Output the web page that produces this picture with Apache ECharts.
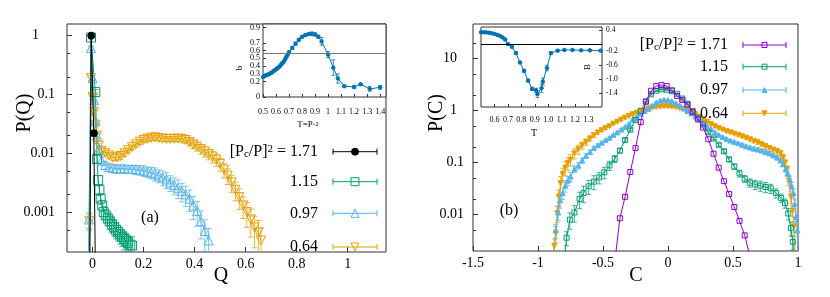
<!DOCTYPE html>
<html><head><meta charset="utf-8">
<script src="https://cdn.jsdelivr.net/npm/echarts@6/dist/echarts.min.js"></script>
<style>html,body{margin:0;padding:0;background:#fff}#c{width:830px;height:297px}</style>
</head><body><div id="c"></div>
<script>
// ---------- Panel (a): P(Q) ----------
const aXTicks = [0, 0.2, 0.4, 0.6, 0.8, 1];
const aYTicks = [1, 0.1, 0.01, 0.001];
const aYMinor = [0.5, 0.2, 0.05, 0.02, 0.005, 0.002, 0.0005];
const blackQ = [-0.012, -0.005, 0.005, 0.014];
const blackP = [1e-5, 1.0, 0.022, 1e-5];
const greenQ = [-0.014, -0.006, 0.011, 0.018, 0.022, 0.027, 0.032, 0.038, 0.044, 0.052, 0.06, 0.068, 0.076, 0.084, 0.092, 0.1, 0.108, 0.116, 0.124, 0.132, 0.14, 0.148, 0.155];
const greenP = [1e-5, 0.93, 0.11, 0.008, 0.0035, 0.0024, 0.0017, 0.0013, 0.001, 0.00088, 0.00078, 0.0007, 0.00062, 0.00056, 0.0005, 0.00046, 0.00042, 0.00038, 0.00035, 0.00032, 0.0003, 0.00028, 0.00027];
const greenErr = [0, 0.05, 0.1, 0.15, 0.2, 0.2, 0.2, 0.22, 0.25, 0.25, 0.25, 0.28, 0.28, 0.3, 0.3, 0.3, 0.32, 0.32, 0.35, 0.35, 0.35, 0.38, 0.4];
const blueQ = [-0.02, -0.014, -0.006, 0.0, 0.006, 0.012, 0.018, 0.025, 0.035, 0.05, 0.065, 0.08, 0.095, 0.11, 0.125, 0.14, 0.155, 0.17, 0.185, 0.2, 0.215, 0.23, 0.245, 0.26, 0.275, 0.29, 0.305, 0.32, 0.335, 0.35, 0.365, 0.38, 0.395, 0.41, 0.425, 0.44, 0.455];
const blueP = [1e-5, 7.5e-4, 0.62, 0.19, 0.08, 0.035, 0.02, 0.012, 0.0075, 0.0063, 0.0058, 0.0056, 0.0055, 0.0055, 0.0055, 0.0054, 0.0054, 0.0053, 0.0052, 0.0051, 0.0049, 0.0047, 0.0045, 0.0042, 0.0039, 0.0036, 0.0032, 0.0029, 0.0026, 0.0023, 0.002, 0.0017, 0.0013, 0.00105, 0.0007, 0.00048, 0.00033];
const blueErr = [0, 0.3, 0.08, 0.1, 0.1, 0.1, 0.1, 0.12, 0.15, 0.15, 0.15, 0.15, 0.15, 0.15, 0.15, 0.15, 0.15, 0.18, 0.18, 0.2, 0.2, 0.22, 0.25, 0.25, 0.28, 0.3, 0.3, 0.32, 0.35, 0.35, 0.38, 0.4, 0.42, 0.45, 0.5, 0.55, 0.6];
const orangeQ = [-0.02, -0.013, -0.006, 0.0, 0.006, 0.012, 0.018, 0.025, 0.035, 0.05, 0.065, 0.08, 0.095, 0.11, 0.125, 0.14, 0.155, 0.17, 0.185, 0.2, 0.215, 0.23, 0.245, 0.26, 0.275, 0.29, 0.305, 0.32, 0.335, 0.35, 0.365, 0.38, 0.395, 0.41, 0.425, 0.44, 0.455, 0.47, 0.485, 0.5, 0.515, 0.53, 0.545, 0.56, 0.575, 0.59, 0.605, 0.62, 0.635, 0.65, 0.66];
const orangeP = [1e-5, 7e-4, 0.19, 0.09, 0.05, 0.03, 0.02, 0.0135, 0.011, 0.0102, 0.0092, 0.0085, 0.0085, 0.009, 0.01, 0.0113, 0.0127, 0.0142, 0.0157, 0.0168, 0.0177, 0.0184, 0.0187, 0.0182, 0.0178, 0.0176, 0.0176, 0.0177, 0.0178, 0.0176, 0.0168, 0.0156, 0.0142, 0.013, 0.0118, 0.0108, 0.0097, 0.0088, 0.0078, 0.0066, 0.0053, 0.0042, 0.0032, 0.0024, 0.0018, 0.0013, 0.001, 0.00075, 0.00055, 0.00045, 0.00033];
const orangeErr = [0, 0.3, 0.1, 0.1, 0.1, 0.1, 0.1, 0.1, 0.12, 0.12, 0.12, 0.12, 0.12, 0.12, 0.12, 0.1, 0.1, 0.1, 0.1, 0.1, 0.1, 0.1, 0.1, 0.1, 0.1, 0.1, 0.1, 0.1, 0.1, 0.12, 0.12, 0.14, 0.15, 0.16, 0.18, 0.2, 0.2, 0.22, 0.24, 0.25, 0.28, 0.3, 0.32, 0.35, 0.38, 0.4, 0.45, 0.5, 0.55, 0.6, 0.65];
// inset (a): b vs T
const insAXTicks = [0.5, 0.6, 0.7, 0.8, 0.9, 1.0, 1.1, 1.2, 1.3, 1.4];
const insAYTicks = [0, 0.1, 0.2, 0.3, 0.4, 0.5, 0.6, 0.7, 0.8, 0.9];
const insAT = [0.5, 0.51, 0.52, 0.53, 0.54, 0.55, 0.56, 0.57, 0.58, 0.59, 0.6, 0.61, 0.62, 0.63, 0.64, 0.65, 0.66, 0.67, 0.68, 0.69, 0.7, 0.725, 0.75, 0.775, 0.8, 0.825, 0.85, 0.875, 0.9, 0.925, 0.95, 1.0, 1.04, 1.075, 1.125, 1.2, 1.25, 1.32, 1.4];
const insAB = [0.26, 0.27, 0.28, 0.285, 0.29, 0.30, 0.31, 0.32, 0.335, 0.345, 0.36, 0.37, 0.385, 0.40, 0.42, 0.44, 0.46, 0.49, 0.52, 0.55, 0.58, 0.635, 0.69, 0.74, 0.78, 0.80, 0.815, 0.82, 0.81, 0.78, 0.72, 0.55, 0.38, 0.24, 0.14, 0.13, 0.165, 0.105, 0.125];
const insAErr = [0.01, 0.01, 0.01, 0.01, 0.01, 0.01, 0.01, 0.01, 0.01, 0.01, 0.01, 0.01, 0.01, 0.01, 0.01, 0.01, 0.01, 0.015, 0.015, 0.015, 0.015, 0.02, 0.02, 0.02, 0.015, 0.015, 0.015, 0.02, 0.02, 0.02, 0.05, 0.04, 0.1, 0.06, 0.015, 0.02, 0.01, 0.03, 0.025];
const insALine = 0.56;

// ---------- Panel (b): P(C) ----------
const bXTicks = [-1.5, -1, -0.5, 0, 0.5, 1];
const bYTicks = [10, 1, 0.1, 0.01];
const bYMinor = [20, 5, 2, 0.5, 0.2, 0.05, 0.02, 0.005];
const purpleC = [-0.41, -0.37, -0.33, -0.29, -0.25, -0.21, -0.17, -0.13, -0.09, -0.05, -0.01, 0.03, 0.07, 0.11, 0.15, 0.19, 0.23, 0.27, 0.31, 0.35, 0.39, 0.43, 0.47, 0.51, 0.55, 0.59, 0.63];
const purpleP = [0.0012, 0.0085, 0.022, 0.066, 0.19, 0.6, 1.5, 2.4, 2.95, 3.1, 2.95, 2.45, 1.9, 1.6, 1.3, 0.93, 0.68, 0.47, 0.28, 0.148, 0.08, 0.044, 0.025, 0.014, 0.0076, 0.004, 0.0016];
const green2C = [-0.80, -0.78, -0.755, -0.72, -0.68, -0.65, -0.61, -0.57, -0.53, -0.49, -0.45, -0.41, -0.37, -0.33, -0.29, -0.25, -0.21, -0.17, -0.13, -0.09, -0.05, -0.01, 0.03, 0.07, 0.11, 0.15, 0.19, 0.23, 0.27, 0.31, 0.35, 0.39, 0.43, 0.47, 0.51, 0.55, 0.59, 0.63, 0.67, 0.71, 0.75, 0.79, 0.83, 0.87, 0.9, 0.925, 0.945, 0.96, 0.975];
const green2P = [0.0012, 0.0036, 0.008, 0.011, 0.02, 0.026, 0.035, 0.043, 0.052, 0.065, 0.088, 0.118, 0.17, 0.27, 0.43, 0.66, 0.98, 1.45, 2.05, 2.4, 2.55, 2.5, 2.35, 2.1, 1.7, 1.35, 0.98, 0.73, 0.54, 0.38, 0.29, 0.22, 0.165, 0.115, 0.084, 0.062, 0.049, 0.041, 0.038, 0.036, 0.034, 0.032, 0.026, 0.021, 0.0166, 0.0105, 0.0055, 0.003, 0.001];
const green2Err = [0, 0.3, 0.35, 0.35, 0.35, 0.35, 0.3, 0.3, 0.25, 0.25, 0.2, 0.15, 0.1, 0.08, 0.05, 0.04, 0.03, 0.03, 0.03, 0.03, 0.03, 0.03, 0.03, 0.03, 0.03, 0.03, 0.03, 0.04, 0.05, 0.06, 0.06, 0.07, 0.08, 0.1, 0.12, 0.15, 0.15, 0.18, 0.2, 0.22, 0.22, 0.2, 0.2, 0.18, 0.2, 0.25, 0.3, 0.3, 0];
const blue2C = [-0.885, -0.864, -0.845, -0.83, -0.81, -0.79, -0.77, -0.75, -0.72, -0.69, -0.66, -0.63, -0.60, -0.57, -0.54, -0.51, -0.48, -0.45, -0.42, -0.39, -0.36, -0.33, -0.30, -0.27, -0.24, -0.21, -0.18, -0.15, -0.12, -0.09, -0.06, -0.03, 0.0, 0.03, 0.06, 0.09, 0.12, 0.15, 0.18, 0.21, 0.24, 0.27, 0.30, 0.33, 0.36, 0.39, 0.42, 0.45, 0.48, 0.51, 0.54, 0.57, 0.60, 0.63, 0.66, 0.69, 0.72, 0.75, 0.78, 0.81, 0.84, 0.865, 0.885, 0.905, 0.92, 0.935, 0.95, 0.965, 0.975, 0.985, 0.995, 1.005];
const blue2P = [0.0012, 0.005, 0.011, 0.019, 0.026, 0.036, 0.045, 0.054, 0.075, 0.088, 0.11, 0.135, 0.16, 0.19, 0.215, 0.24, 0.27, 0.30, 0.34, 0.38, 0.43, 0.48, 0.55, 0.67, 0.76, 0.87, 0.98, 1.08, 1.25, 1.42, 1.55, 1.6, 1.58, 1.5, 1.38, 1.25, 1.1, 0.98, 0.88, 0.77, 0.67, 0.58, 0.50, 0.44, 0.38, 0.34, 0.31, 0.285, 0.265, 0.25, 0.235, 0.22, 0.205, 0.195, 0.185, 0.178, 0.17, 0.16, 0.15, 0.138, 0.125, 0.11, 0.094, 0.075, 0.062, 0.048, 0.036, 0.026, 0.016, 0.009, 0.005, 0.0015];
const blue2Err = [0, 0.3, 0.3, 0.3, 0.25, 0.25, 0.2, 0.2, 0.15, 0.15, 0.12, 0.1, 0.08, 0.08, 0.06, 0.05, 0.04, 0.04, 0.03, 0.03, 0.03, 0.03, 0.03, 0.03, 0.03, 0.03, 0.03, 0.03, 0.03, 0.03, 0.03, 0.03, 0.03, 0.03, 0.03, 0.03, 0.03, 0.03, 0.03, 0.03, 0.03, 0.03, 0.03, 0.03, 0.03, 0.03, 0.03, 0.03, 0.03, 0.03, 0.05, 0.05, 0.06, 0.06, 0.07, 0.07, 0.08, 0.08, 0.08, 0.1, 0.1, 0.1, 0.12, 0.12, 0.12, 0.15, 0.15, 0.2, 0.2, 0.25, 0.25, 0];
const orange2C = [-0.89, -0.875, -0.862, -0.852, -0.84, -0.826, -0.81, -0.79, -0.77, -0.75, -0.72, -0.69, -0.66, -0.63, -0.60, -0.57, -0.54, -0.51, -0.48, -0.45, -0.42, -0.39, -0.36, -0.33, -0.30, -0.27, -0.24, -0.21, -0.18, -0.15, -0.12, -0.09, -0.06, -0.03, 0.0, 0.03, 0.06, 0.09, 0.12, 0.15, 0.18, 0.21, 0.24, 0.27, 0.30, 0.33, 0.36, 0.39, 0.42, 0.45, 0.48, 0.51, 0.54, 0.57, 0.60, 0.63, 0.66, 0.69, 0.72, 0.75, 0.78, 0.81, 0.84, 0.865, 0.885, 0.9, 0.915, 0.93, 0.945, 0.958, 0.969, 0.98];
const orange2P = [0.0012, 0.0025, 0.0044, 0.0107, 0.022, 0.04, 0.06, 0.08, 0.098, 0.114, 0.15, 0.18, 0.215, 0.25, 0.29, 0.335, 0.38, 0.42, 0.46, 0.50, 0.56, 0.61, 0.67, 0.73, 0.79, 0.85, 0.91, 0.99, 1.04, 1.09, 1.14, 1.17, 1.19, 1.21, 1.21, 1.19, 1.16, 1.12, 1.06, 1.0, 0.93, 0.85, 0.76, 0.68, 0.61, 0.55, 0.50, 0.46, 0.43, 0.40, 0.38, 0.36, 0.34, 0.32, 0.30, 0.28, 0.26, 0.245, 0.225, 0.205, 0.19, 0.175, 0.163, 0.15, 0.125, 0.1, 0.075, 0.045, 0.022, 0.012, 0.0059, 0.0012];
const orange2Err = [0, 0.35, 0.35, 0.35, 0.35, 0.35, 0.3, 0.3, 0.28, 0.25, 0.22, 0.2, 0.16, 0.14, 0.12, 0.1, 0.08, 0.07, 0.06, 0.05, 0.04, 0.04, 0.04, 0.04, 0.04, 0.04, 0.04, 0.04, 0.04, 0.04, 0.04, 0.04, 0.04, 0.04, 0.04, 0.04, 0.04, 0.04, 0.04, 0.04, 0.04, 0.04, 0.04, 0.04, 0.04, 0.04, 0.04, 0.04, 0.04, 0.04, 0.05, 0.05, 0.06, 0.06, 0.07, 0.08, 0.08, 0.1, 0.1, 0.12, 0.12, 0.14, 0.15, 0.15, 0.15, 0.15, 0.15, 0.2, 0.25, 0.25, 0.25, 0];
// inset (b): B vs T
const insBXTicks = [0.6, 0.7, 0.8, 0.9, 1.0, 1.1, 1.2, 1.3];
const insBYTicks = [0.4, 0.2, -0.2, -0.6, -1.0, -1.4];
const insBT = [0.5, 0.52, 0.54, 0.56, 0.58, 0.6, 0.62, 0.64, 0.66, 0.68, 0.7, 0.73, 0.76, 0.79, 0.82, 0.85, 0.88, 0.91, 0.92, 0.95, 0.96, 0.99, 1.02, 1.07, 1.12, 1.18, 1.245, 1.31, 1.39];
const insBB = [0.35, 0.35, 0.345, 0.335, 0.32, 0.3, 0.275, 0.245, 0.2, 0.14, 0.01, -0.07, -0.25, -0.52, -0.76, -1.04, -1.28, -1.32, -1.43, -1.26, -1.07, -0.68, -0.25, -0.18, -0.16, -0.16, -0.17, -0.17, -0.18];
const insBErr = [0.02, 0.02, 0.02, 0.02, 0.02, 0.02, 0.02, 0.02, 0.02, 0.02, 0.02, 0.03, 0.03, 0.03, 0.04, 0.04, 0.05, 0.06, 0.1, 0.12, 0.1, 0.08, 0.04, 0.03, 0.02, 0.02, 0.02, 0.02, 0.02];
const insBLine = 0;

const legendLabels = ['1.71', '1.15', '0.97', '0.64'];

// ---------- styling ----------
const F = 'Liberation Serif';
const C_BLACK = '#000000', C_GREEN = '#009e73', C_BLUE = '#56b4e9', C_ORANGE = '#e69f00', C_PURPLE = '#9400d3', C_INSET = '#0072b2';
const AX = '#333';

function pairs(xs, ys) { return xs.map((x, i) => [x, ys[i]]); }
function relErr(xs, ys, es) { const o = []; xs.forEach((x, i) => { const e = es[i] || 0; if (e > 0) o.push([x, ys[i] * (1 - e), ys[i] * (1 + e)]); }); return o; }
function absErr(xs, ys, es) { const o = []; xs.forEach((x, i) => { const e = es[i] || 0; if (e > 0) o.push([x, ys[i] - e, ys[i] + e]); }); return o; }

function errSeries(xi, yi, data, color, cap, z) {
  return {
    type: 'custom', xAxisIndex: xi, yAxisIndex: yi, clip: true, silent: true, z: z || 1, animation: false,
    encode: { x: 0, y: [1, 2] }, data,
    renderItem(params, api) {
      const x = api.value(0);
      const a = api.coord([x, api.value(1)]);
      const b = api.coord([x, api.value(2)]);
      const st = { stroke: color, lineWidth: 1, opacity: 0.75 };
      return { type: 'group', children: [
        { type: 'line', shape: { x1: a[0], y1: a[1], x2: b[0], y2: b[1] }, style: st },
        { type: 'line', shape: { x1: a[0] - cap, y1: a[1], x2: a[0] + cap, y2: a[1] }, style: st },
        { type: 'line', shape: { x1: b[0] - cap, y1: b[1], x2: b[0] + cap, y2: b[1] }, style: st }
      ] };
    }
  };
}
function lineSeries(xi, yi, data, color, symbol, size, opts) {
  opts = opts || {};
  return {
    type: 'line', xAxisIndex: xi, yAxisIndex: yi, data, symbol, symbolSize: size,
    symbolRotate: opts.rotate || 0, showAllSymbol: true, clip: true, animation: false, z: opts.z || 2,
    lineStyle: { color, width: 1 },
    itemStyle: { color: opts.hollow ? 'rgba(255,255,255,0)' : color, borderColor: color, borderWidth: 1 },
    emphasis: { disabled: true }
  };
}
function markHLine(xi, yi, y, color) {
  return { type: 'line', xAxisIndex: xi, yAxisIndex: yi, data: [], animation: false,
    markLine: { silent: true, symbol: 'none', label: { show: false }, lineStyle: { color, width: 1, type: 'solid' }, data: [{ yAxis: y }], animation: false } };
}

const tickLbl = (sz) => ({ fontFamily: F, fontSize: sz, color: '#000', hideOverlap: false, showMinLabel: true, showMaxLabel: true });
const noLine = { show: false, onZero: false };

const xAxis = [
  { type: 'value', gridIndex: 0, min: -0.1, max: 1.15, axisLine: noLine, splitLine: { show: false },
    axisTick: { inside: true, length: 5, customValues: aXTicks, lineStyle: { color: AX } },
    axisLabel: Object.assign({ customValues: aXTicks, margin: 5 }, tickLbl(14)) },
  { type: 'value', gridIndex: 1, min: 0.5, max: 1.445, axisLine: noLine, splitLine: { show: false },
    axisTick: { inside: true, length: 3, customValues: insAXTicks, lineStyle: { color: AX } },
    axisLabel: Object.assign({ customValues: insAXTicks, margin: 11, formatter: v => String(Math.round(v * 10) / 10) }, tickLbl(8)) },
  { type: 'value', gridIndex: 2, min: -1.5, max: 1, axisLine: noLine, splitLine: { show: false },
    axisTick: { inside: true, length: 5, customValues: bXTicks, lineStyle: { color: AX } },
    axisLabel: Object.assign({ customValues: bXTicks, margin: 5 }, tickLbl(14)) },
  { type: 'value', gridIndex: 3, min: 0.5, max: 1.4, axisLine: noLine, splitLine: { show: false },
    axisTick: { inside: true, length: 3, customValues: insBXTicks, lineStyle: { color: AX } },
    axisLabel: Object.assign({ customValues: insBXTicks, margin: 9, formatter: v => v.toFixed(1) }, tickLbl(8)) }
];
const yAxis = [
  { type: 'log', logBase: 10, gridIndex: 0, position: 'left', min: 2.1e-4, max: 1.58, axisLine: noLine, splitLine: { show: false },
    axisTick: { inside: true, length: 5, customValues: aYTicks, lineStyle: { color: AX } },
    axisLabel: Object.assign({ customValues: aYTicks, margin: 12, formatter: v => v === 1 ? '{one|1}' : String(v),
      rich: { one: { fontFamily: F, fontSize: 14, color: '#000', padding: [0, 16, 0, 0] } } }, tickLbl(14)) },
  { type: 'value', gridIndex: 1, position: 'left', min: 0, max: 0.945, axisLine: noLine, splitLine: { show: false },
    axisTick: { inside: true, length: 3, customValues: insAYTicks, lineStyle: { color: AX } },
    axisLabel: Object.assign({ customValues: insAYTicks, margin: 3, formatter: v => String(Math.round(v * 10) / 10) }, tickLbl(8)) },
  { type: 'log', logBase: 10, gridIndex: 2, position: 'left', min: 0.002, max: 46, axisLine: noLine, splitLine: { show: false },
    axisTick: { inside: true, length: 5, customValues: bYTicks, lineStyle: { color: AX } },
    axisLabel: Object.assign({ customValues: bYTicks, margin: 9, formatter: v => v >= 1 ? '{big|' + v + '}' : String(v),
      rich: { big: { fontFamily: F, fontSize: 14, color: '#000', padding: [0, 7, 0, 0] } } }, tickLbl(14)) },
  { type: 'value', gridIndex: 3, min: -1.8, max: 0.5, position: 'right', axisLine: noLine, splitLine: { show: false },
    axisTick: { inside: true, length: 3, customValues: insBYTicks, lineStyle: { color: AX } },
    axisLabel: Object.assign({ customValues: insBYTicks, margin: 4, formatter: v => v.toFixed(1) }, tickLbl(7.5)) },
  { type: 'log', logBase: 10, gridIndex: 0, position: 'left', min: 2.1e-4, max: 1.58, axisLine: noLine, splitLine: { show: false },
    axisTick: { inside: true, length: 3, customValues: aYMinor, lineStyle: { color: AX } }, axisLabel: { show: false } },
  { type: 'log', logBase: 10, gridIndex: 2, position: 'left', min: 0.002, max: 46, axisLine: noLine, splitLine: { show: false },
    axisTick: { inside: true, length: 3, customValues: bYMinor, lineStyle: { color: AX } }, axisLabel: { show: false } }
];
const grid = [
  { left: 67, top: 24, width: 319, height: 228, show: true, borderColor: AX, borderWidth: 1, backgroundColor: 'transparent' },
  { left: 263, top: 24, width: 123, height: 73, show: true, borderColor: AX, borderWidth: 1, backgroundColor: '#fff' },
  { left: 473, top: 24, width: 325, height: 227, show: true, borderColor: AX, borderWidth: 1, backgroundColor: 'transparent' },
  { left: 481, top: 27, width: 121, height: 80, show: true, borderColor: AX, borderWidth: 1, backgroundColor: '#fff' }
];

const series = [
  // panel a
  errSeries(0, 0, relErr(orangeQ, orangeP, orangeErr), C_ORANGE, 3),
  errSeries(0, 0, relErr(blueQ, blueP, blueErr), C_BLUE, 3),
  errSeries(0, 0, relErr(greenQ, greenP, greenErr), C_GREEN, 3),
  lineSeries(0, 0, pairs(orangeQ, orangeP), C_ORANGE, 'triangle', 9, { hollow: true, rotate: 180 }),
  lineSeries(0, 0, pairs(blueQ, blueP), C_BLUE, 'triangle', 9, { hollow: true }),
  lineSeries(0, 0, pairs(greenQ, greenP), C_GREEN, 'rect', 9, { hollow: true }),
  lineSeries(0, 0, pairs(blackQ, blackP), C_BLACK, 'circle', 7, { z: 3 }),
  // inset a
  markHLine(1, 1, insALine, '#777'),
  errSeries(1, 1, absErr(insAT, insAB, insAErr), C_INSET, 2, 3),
  lineSeries(1, 1, pairs(insAT, insAB), C_INSET, 'circle', 3.5, { z: 4 }),
  // panel b
  errSeries(2, 2, relErr(orange2C, orange2P, orange2Err), C_ORANGE, 2.5),
  errSeries(2, 2, relErr(blue2C, blue2P, blue2Err), C_BLUE, 2.5),
  errSeries(2, 2, relErr(green2C, green2P, green2Err), C_GREEN, 2.5),
  lineSeries(2, 2, pairs(orange2C, orange2P), C_ORANGE, 'triangle', 5, { rotate: 180 }),
  lineSeries(2, 2, pairs(blue2C, blue2P), C_BLUE, 'triangle', 5),
  lineSeries(2, 2, pairs(green2C, green2P), C_GREEN, 'rect', 5, { hollow: true }),
  lineSeries(2, 2, pairs(purpleC, purpleP), C_PURPLE, 'rect', 5, { hollow: true, z: 3 }),
  // inset b
  markHLine(3, 3, insBLine, '#000'),
  errSeries(3, 3, absErr(insBT, insBB, insBErr), C_INSET, 2, 3),
  lineSeries(3, 3, pairs(insBT, insBB), C_INSET, 'circle', 3.5, { z: 4 })
];

// ---------- text & legends ----------
const g = [];
function txt(x, y, text, size, o) {
  o = o || {};
  g.push({ type: 'text', x, y, rotation: o.rot || 0, z: 20, silent: true,
    style: { text, fontFamily: F, fontSize: size, fill: '#000', align: o.align || 'center', verticalAlign: 'middle', rich: o.rich } });
}
const richPc = {
  sub: { fontFamily: F, fontSize: 11, verticalAlign: 'bottom', lineHeight: 11 },
  sup: { fontFamily: F, fontSize: 11, verticalAlign: 'top', lineHeight: 11 }
};
txt(25, 113, 'P(Q)', 20, { rot: Math.PI / 2 });
txt(221, 276, 'Q', 20);
txt(150, 218, '(a)', 16);
txt(437, 113, 'P(C)', 20, { rot: Math.PI / 2 });
txt(636, 276, 'C', 20);
txt(509, 211, '(b)', 16);
txt(240, 68, 'b', 9, { rot: Math.PI / 2 });
txt(308, 125, 'T=P{s|-2}', 9, { rich: { s: { fontFamily: F, fontSize: 7, verticalAlign: 'top' } } });
txt(534, 133, 'T', 10);
txt(588, 67, 'B', 9, { rot: Math.PI / 2 });

function legendRow(textRight, y, label, first, x1, x2, color, marker) {
  if (first) txt(textRight, y, '[P{sub|c}/P]{sup|2} = ' + label, 16, { align: 'right', rich: richPc });
  else txt(textRight, y, label, 16, { align: 'right' });
  const st = { stroke: color, lineWidth: 1 };
  g.push({ type: 'line', z: 20, silent: true, shape: { x1, y1: y, x2, y2: y }, style: st });
  g.push({ type: 'line', z: 20, silent: true, shape: { x1, y1: y - 3, x2: x1, y2: y + 3 }, style: st });
  g.push({ type: 'line', z: 20, silent: true, shape: { x1: x2, y1: y - 3, x2: x2, y2: y + 3 }, style: st });
  const cx = (x1 + x2) / 2, s = marker.s;
  const fill = marker.fill ? color : 'rgba(255,255,255,0)';
  const ms = { stroke: color, lineWidth: 1, fill };
  if (marker.t === 'circle') g.push({ type: 'circle', z: 21, silent: true, shape: { cx, cy: y, r: s / 2 }, style: ms });
  if (marker.t === 'rect') g.push({ type: 'rect', z: 21, silent: true, shape: { x: cx - s / 2, y: y - s / 2, width: s, height: s }, style: ms });
  if (marker.t === 'tri') g.push({ type: 'polygon', z: 21, silent: true, shape: { points: [[cx, y - s / 2], [cx + s / 2, y + s / 2], [cx - s / 2, y + s / 2]] }, style: ms });
  if (marker.t === 'itri') g.push({ type: 'polygon', z: 21, silent: true, shape: { points: [[cx, y + s / 2], [cx + s / 2, y - s / 2], [cx - s / 2, y - s / 2]] }, style: ms });
}
const aRows = [151.7, 181.7, 213.3, 247];
legendRow(318, aRows[0], legendLabels[0], true, 333, 377, C_BLACK, { t: 'circle', s: 7, fill: true });
legendRow(318, aRows[1], legendLabels[1], false, 333, 377, C_GREEN, { t: 'rect', s: 8 });
legendRow(318, aRows[2], legendLabels[2], false, 333, 377, C_BLUE, { t: 'tri', s: 8 });
legendRow(318, aRows[3], legendLabels[3], false, 333, 377, C_ORANGE, { t: 'itri', s: 8 });
const bRows = [45, 66.7, 90, 113.3];
legendRow(728, bRows[0], legendLabels[0], true, 743, 786, C_PURPLE, { t: 'rect', s: 5 });
legendRow(728, bRows[1], legendLabels[1], false, 743, 786, C_GREEN, { t: 'rect', s: 5 });
legendRow(728, bRows[2], legendLabels[2], false, 743, 786, C_BLUE, { t: 'tri', s: 5, fill: true });
legendRow(728, bRows[3], legendLabels[3], false, 743, 786, C_ORANGE, { t: 'itri', s: 5, fill: true });

const chart = echarts.init(document.getElementById('c'), null, { renderer: 'canvas' });
chart.setOption({ animation: false, backgroundColor: '#fff', grid, xAxis, yAxis, series, graphic: g });
</script></body></html>
